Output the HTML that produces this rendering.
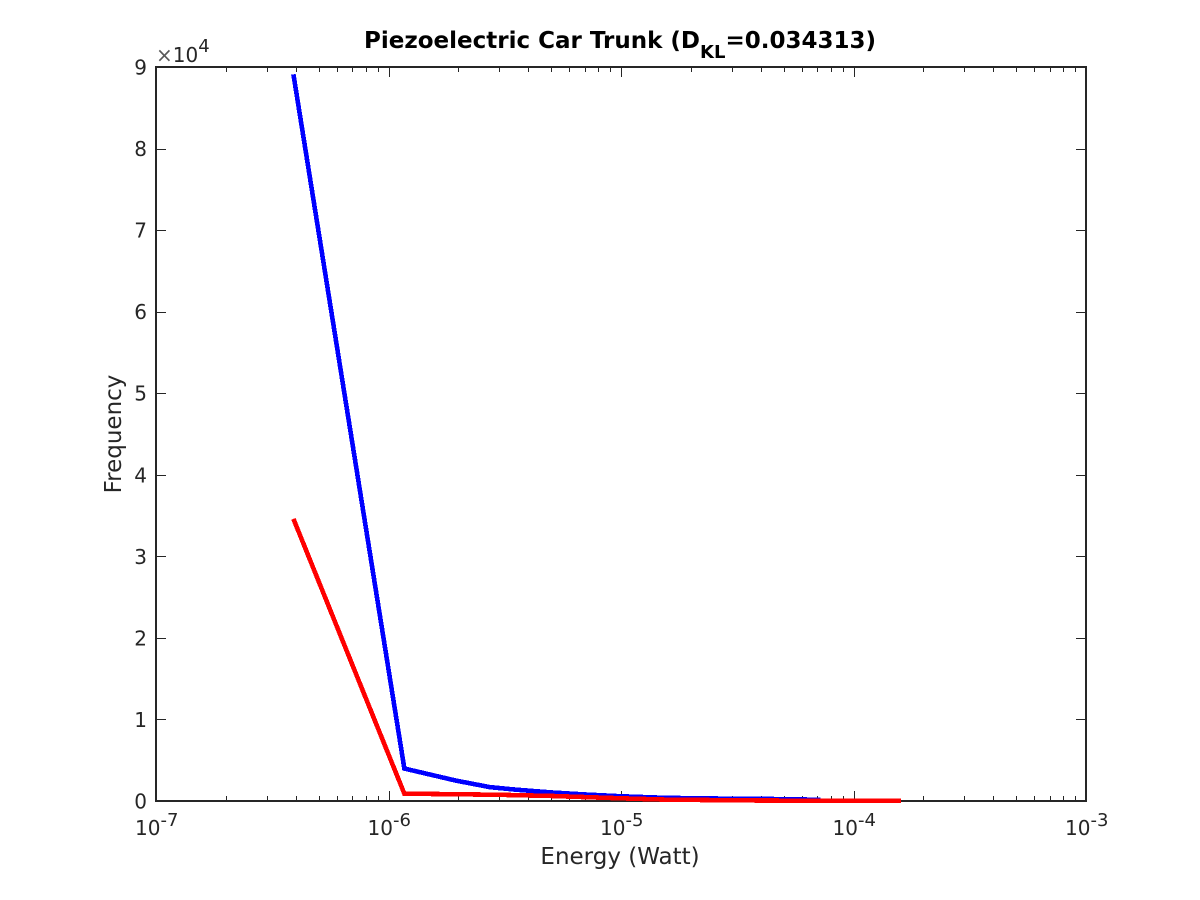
<!DOCTYPE html>
<html>
<head>
<meta charset="utf-8">
<title>Piezoelectric Car Trunk</title>
<style>
html,body{margin:0;padding:0;background:#fff;width:1200px;height:900px;overflow:hidden}
svg{display:block}
text{font-family:"DejaVu Sans","Liberation Sans",sans-serif;fill:#262626}
</style>
</head>
<body>
<svg id="chart" width="1200" height="900" viewBox="0 0 1200 900" xmlns="http://www.w3.org/2000/svg">
  <rect x="0" y="0" width="1200" height="900" fill="#fff"/>
  <g id="axes"></g>
  <g id="series"></g>
  <text x="620" y="48" text-anchor="middle" font-size="23" font-weight="bold" style="fill:#000">Piezoelectric Car Trunk (D<tspan font-size="18" dy="10">KL</tspan><tspan dy="-10">=0.034313)</tspan></text>
  <text x="620" y="864" text-anchor="middle" font-size="23">Energy (Watt)</text>
  <text transform="translate(121,434) rotate(-90)" text-anchor="middle" font-size="23">Frequency</text>
  <text x="156" y="62" font-size="20"><tspan style="fill:#595959" font-size="20">×</tspan>10<tspan font-size="18" dy="-10">4</tspan></text>
</svg>
<script>
var xTickExponents = [-7, -6, -5, -4, -3];
var yTickValues = [0, 1, 2, 3, 4, 5, 6, 7, 8, 9];
var minorMultipliers = [2, 3, 4, 5, 6, 7, 8, 9];
var blueEnergy = [3.9e-7, 1.17e-6, 1.95e-6, 2.73e-6, 3.5e-6, 5e-6, 7e-6, 1e-5, 1.5e-5, 2e-5, 3e-5, 4.5e-5, 6e-5, 7.2e-5];
var blueFrequency = [89100, 3980, 2500, 1700, 1400, 1050, 800, 580, 400, 340, 280, 240, 200, 120];
var redEnergy = [3.9e-7, 1.17e-6, 1.95e-6, 3e-6, 5e-6, 7e-6, 1e-5, 1.5e-5, 2.5e-5, 4e-5, 8e-5, 1.6e-4];
var redFrequency = [34600, 900, 830, 760, 620, 480, 330, 180, 110, 60, 40, 30];

var SVGNS = 'http://www.w3.org/2000/svg';
var LEFT = 156, RIGHT = 1086, TOP = 67, BOTTOM = 801;
function xScale(v) { return LEFT + (Math.log10(v) + 7) / 4 * (RIGHT - LEFT); }
function yScale(v) { return BOTTOM - v / 90000 * (BOTTOM - TOP); }
function make(tag, parent, attrs) {
  var el = document.createElementNS(SVGNS, tag);
  for (var k in attrs) el.setAttribute(k, attrs[k]);
  parent.appendChild(el);
  return el;
}
var axes = document.getElementById('axes');
var series = document.getElementById('series');

function drawSeries(xs, ys, color, name) {
  var pts = xs.map(function (x, i) { return xScale(x).toFixed(2) + ',' + yScale(ys[i]).toFixed(2); }).join(' ');
  var line = make('polyline', series, { points: pts, fill: 'none', stroke: color, 'stroke-width': 4.6, 'stroke-linejoin': 'miter', 'shape-rendering': 'crispEdges' });
  
  
}
drawSeries(blueEnergy, blueFrequency, '#0000ff', 'blue-frequency-line');
drawSeries(redEnergy, redFrequency, '#ff0000', 'red-frequency-line');

function tick(x1, y1, x2, y2, name) {
  var t = make('line', axes, { x1: x1, y1: y1, x2: x2, y2: y2, stroke: '#262626', 'stroke-width': 1 });
  
  
}
xTickExponents.forEach(function (e, i) {
  var x = Math.round(xScale(Math.pow(10, e))) + 0.5;
  tick(x, BOTTOM, x, BOTTOM - 10, 'x-major-tick');
  tick(x, TOP, x, TOP + 10, 'x-major-tick-top');
  var label = make('text', axes, { x: xScale(Math.pow(10, e)) - 21, y: 835, 'font-size': 20 });
  
  
  label.appendChild(document.createTextNode('10'));
  var sup = make('tspan', label, { 'font-size': 18, dy: -9 });
  sup.textContent = String(e);
  if (i < xTickExponents.length - 1) {
    minorMultipliers.forEach(function (m) {
      var mx = Math.round(xScale(m * Math.pow(10, e))) + 0.5;
      tick(mx, BOTTOM, mx, BOTTOM - 5, 'x-minor-tick');
      tick(mx, TOP, mx, TOP + 5, 'x-minor-tick-top');
    });
  }
});
yTickValues.forEach(function (v) {
  var y = Math.round(yScale(v * 10000)) + 0.5;
  tick(LEFT, y, LEFT + 10, y, 'y-major-tick');
  tick(RIGHT, y, RIGHT - 10, y, 'y-major-tick-right');
  var label = make('text', axes, { x: 147, y: yScale(v * 10000) + 7.5, 'text-anchor': 'end', 'font-size': 20 });
  
  
  label.textContent = String(v);
});
var box = make('path', axes, { d: 'M' + LEFT + ' ' + BOTTOM + 'V' + TOP + 'H' + RIGHT + 'V' + BOTTOM + 'Z', fill: 'none', stroke: '#262626', 'stroke-width': 2 });


</script>
</body>
</html>
